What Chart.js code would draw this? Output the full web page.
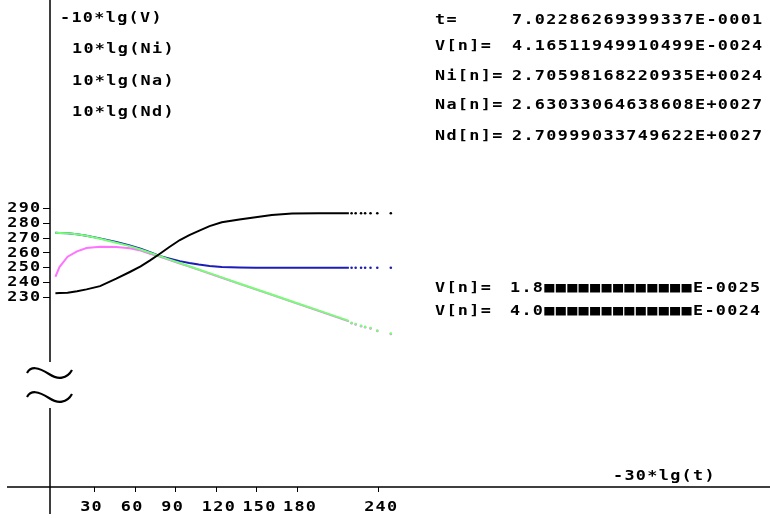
<!DOCTYPE html>
<html>
<head>
<meta charset="utf-8">
<script src="https://cdn.jsdelivr.net/npm/chart.js@4/dist/chart.umd.min.js"></script>
<style>
  html, body { margin: 0; padding: 0; background: #fff; }
  #wrap { width: 770px; height: 518px; position: relative; }
</style>
</head>
<body>
<div id="wrap"><canvas id="plot"></canvas></div>
<script>
// -30*lg(t) positions of the samples (last 7 are the sparse dots at the end)
const X_VALUES = [1, 4, 10, 17, 24, 34, 46, 56, 64, 71, 78, 85, 93, 100, 107, 115, 124, 137, 149, 161, 176, 196, 218,
  220, 223, 227, 230, 234, 239, 249];
const LINE_END = 22; // index of the last point joined by the line

const V_VALUES = [232.9, 233.1, 233.3, 234.2, 235.5, 237.7, 242.7, 247.2, 251.0, 255.0, 259.3, 263.8, 268.7, 272.0, 274.8, 278.0, 280.6, 282.5, 284.0, 285.5, 286.5, 286.7, 286.7,
  286.7, 286.7, 286.7, 286.7, 286.7, 286.7, 286.7];
const NA_VALUES = [273.5, 273.4, 273.2, 272.6, 271.5, 269.5, 266.9, 264.6, 262.3, 260.1, 257.9, 255.7, 253.2, 251.1, 248.9, 246.4, 243.6, 239.5, 235.8, 232.1, 227.4, 221.2, 214.3,
  213.0, 212.2, 211.1, 210.3, 209.5, 207.8, 205.8];
const ND_VALUES = [273.5, 273.4, 273.2, 272.6, 271.6, 269.8, 267.4, 265.0, 262.8, 260.5, 258.0, 256.3, 254.5, 253.2, 252.2, 251.3, 250.5, 250.2, 250.1, 250.0, 250.0, 250.0, 250.0,
  250.0, 250.0, 250.0, 250.0, 250.0, 250.0, 250.0];
const NI_VALUES = [244.0, 250.5, 257.5, 261.1, 263.3, 264.2, 264.0, 263.2, 261.6, 259.5, 257.6, 255.4, 252.9, 250.8, 248.6, 246.1, 243.3, 239.2, 235.5, 231.8, 227.1, 220.9, 214.0,
  212.7, 211.9, 210.8, 210.0, 209.2, 207.5, 205.5];

const X_TICKS = [30, 60, 90, 120, 150, 180, 240];
const Y_TICKS = [230, 240, 250, 260, 270, 280, 290];

const LEFT_LABELS = ['-10*lg(V)', '10*lg(Ni)', '10*lg(Na)', '10*lg(Nd)'];
const INFO_NAMES = ['t=', 'V[n]=', 'Ni[n]=', 'Na[n]=', 'Nd[n]='];
const INFO_VALUES = ['7.02286269399337E-0001', '4.16511949910499E-0024', '2.70598168220935E+0024',
  '2.63033064638608E+0027', '2.70999033749622E+0027'];
const LOW_NAMES = ['V[n]=', 'V[n]='];
const LOW_VALUES = ['1.8' + '\u25A0'.repeat(13) + 'E-0025', '4.0' + '\u25A0'.repeat(13) + 'E-0024'];
const X_TITLE = '-30*lg(t)';

const FONT = 'bold 14px "DejaVu Sans Mono", "Liberation Mono", monospace';

function series(values) {
  return values.map((v, i) => ({ x: X_VALUES[i], y: v }));
}

function makeSet(label, values, color) {
  return {
    label,
    data: series(values),
    borderColor: color,
    backgroundColor: color,
    borderWidth: 2,
    tension: 0,
    pointRadius: ctx => ctx.dataIndex > LINE_END ? 1.3 : 0,
    pointBorderWidth: 0,
    pointBackgroundColor: color,
    segment: {
      borderColor: ctx => ctx.p1DataIndex > LINE_END ? 'rgba(0,0,0,0)' : color
    }
  };
}

function squiggle(ctx, cy) {
  ctx.beginPath();
  ctx.moveTo(27, cy + 1);
  ctx.bezierCurveTo(31, cy - 6, 38, cy - 5, 49, cy + 2);
  ctx.bezierCurveTo(58, cy + 8, 67, cy + 7, 72, cy - 2);
  ctx.stroke();
}

// wide, chunky text like the old screen font
function wideText(ctx, text, x, y) {
  ctx.save();
  ctx.translate(x, y);
  ctx.scale(1.2, 1);
  ctx.letterSpacing = '1.1px';
  ctx.fillText(text, 0, 0);
  ctx.restore();
}

const overlay = {
  id: 'overlay',
  afterDraw(chart) {
    const ctx = chart.ctx;
    const a = chart.chartArea;
    const xs = chart.scales.x;
    const ys = chart.scales.y;
    ctx.save();
    ctx.strokeStyle = '#000';
    ctx.lineWidth = 1.5;

    // axes, the y axis broken where the squiggles sit
    ctx.beginPath();
    ctx.moveTo(7, a.bottom);
    ctx.lineTo(770, a.bottom);
    ctx.moveTo(a.left, 0);
    ctx.lineTo(a.left, 362);
    ctx.moveTo(a.left, 408);
    ctx.lineTo(a.left, 514);
    ctx.stroke();

    ctx.lineWidth = 2.2;
    squiggle(ctx, 372);
    squiggle(ctx, 396);

    ctx.fillStyle = '#000';
    ctx.font = FONT;
    ctx.textBaseline = 'middle';

    // tick labels at the scales' own tick positions
    ctx.textAlign = 'right';
    Y_TICKS.forEach(v => wideText(ctx, String(v), 41.5, ys.getPixelForValue(v)));
    ctx.textAlign = 'left';
    X_TICKS.forEach(v => wideText(ctx, String(v), xs.getPixelForValue(v) - 14.5, 507));

    const leftX = [60, 72, 72, 72];
    const leftY = [18, 49, 81, 112];
    LEFT_LABELS.forEach((t, i) => wideText(ctx, t, leftX[i], leftY[i]));

    const infoY = [20, 46, 76, 105, 136];
    INFO_NAMES.forEach((t, i) => {
      wideText(ctx, t, 435, infoY[i]);
      wideText(ctx, INFO_VALUES[i], 512, infoY[i]);
    });

    const lowY = [288, 311];
    LOW_NAMES.forEach((t, i) => {
      wideText(ctx, t, 435, lowY[i]);
      wideText(ctx, LOW_VALUES[i], 510, lowY[i]);
    });

    wideText(ctx, X_TITLE, 613, 476);
    ctx.restore();
  }
};

const tickFont = { family: '"DejaVu Sans Mono"', size: 14, weight: 'bold' };

new Chart(document.getElementById('plot'), {
  type: 'line',
  data: {
    datasets: [
      makeSet('-10*lg(V)', V_VALUES, '#000000'),
      makeSet('10*lg(Na)', NA_VALUES, '#74ff74'),
      makeSet('10*lg(Nd)', ND_VALUES, '#1c1cb8'),
      makeSet('10*lg(Ni)', NI_VALUES, '#ff74ff')
    ]
  },
  options: {
    responsive: true,
    maintainAspectRatio: false,
    animation: false,
    layout: { padding: 0 },
    plugins: {
      legend: { display: false },
      tooltip: { enabled: false }
    },
    scales: {
      x: {
        type: 'linear',
        min: -3,
        max: -3 + 720 / 1.36,
        afterFit: s => { s.height = 31; s.paddingLeft = 0; s.paddingRight = 0; },
        afterBuildTicks: s => { s.ticks = X_TICKS.map(v => ({ value: v })); },
        border: { display: false },
        grid: { drawOnChartArea: false, drawTicks: true, tickLength: 5, color: '#000', tickWidth: 1 },
        // labels are drawn by the overlay in the wide screen font
        ticks: { color: 'rgba(0,0,0,0)', font: tickFont, padding: 5, maxRotation: 0, autoSkip: false }
      },
      y: {
        type: 'linear',
        min: 290 - 281 / 1.5,
        max: 290 + 206 / 1.5,
        afterFit: s => { s.width = 50; s.paddingTop = 0; s.paddingBottom = 0; },
        afterBuildTicks: s => { s.ticks = Y_TICKS.map(v => ({ value: v })); },
        border: { display: false },
        grid: { drawOnChartArea: false, drawTicks: true, tickLength: 7, color: '#000', tickWidth: 1 },
        ticks: { color: 'rgba(0,0,0,0)', font: tickFont, padding: 0, autoSkip: false }
      }
    }
  },
  plugins: [overlay]
});
</script>
</body>
</html>
